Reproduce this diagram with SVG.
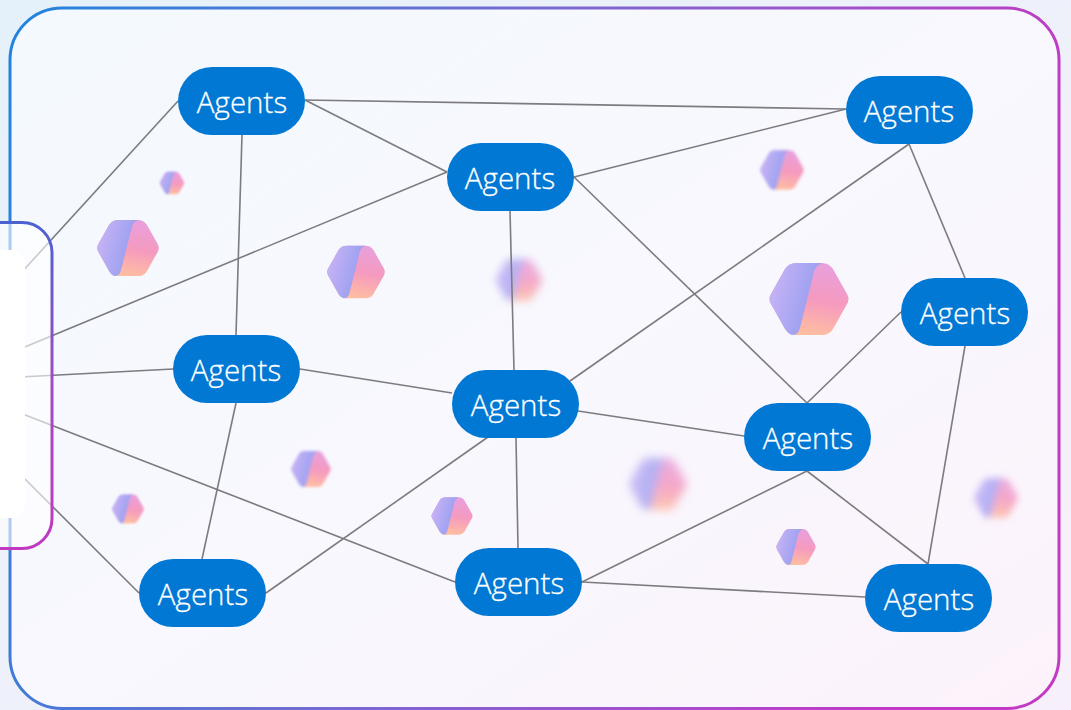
<svg xmlns="http://www.w3.org/2000/svg" width="1071" height="710" viewBox="0 0 1071 710">
<style>
.n{fill:#0078d4}
.t{fill:#fff;stroke:#fff;stroke-width:.3;font:300 29.500px "Open Sans","Noto Sans",sans-serif;text-anchor:middle}
#edges line{stroke:#7c7b7f;stroke-width:1.6}
</style>
<defs>
<linearGradient id="out" x1="0" y1="0" x2="1" y2="1"><stop offset="0" stop-color="#e5f1fa"/><stop offset="1" stop-color="#f7f0fa"/></linearGradient>
<linearGradient id="bg" x1="0" y1="0" x2="1" y2="1"><stop offset="0" stop-color="#f3f9fe"/><stop offset=".5" stop-color="#f8f8fe"/><stop offset="1" stop-color="#fcf2fb"/></linearGradient>
<linearGradient id="bd" x1="0" y1="0" x2="1" y2=".2"><stop offset="0" stop-color="#2084dc"/><stop offset=".5" stop-color="#7a6ad0"/><stop offset="1" stop-color="#c23ac2"/></linearGradient>
<linearGradient id="pb" x1="0" y1="0" x2="0" y2="1"><stop offset="0" stop-color="#4a62d0"/><stop offset=".5" stop-color="#a04cc4"/><stop offset="1" stop-color="#c238c0"/></linearGradient>
<linearGradient id="hl" x1="0" y1="0" x2="1" y2=".35"><stop offset="0" stop-color="#cdb6f6"/><stop offset="1" stop-color="#959df0"/></linearGradient>
<linearGradient id="hr" x1=".6" y1="0" x2=".4" y2="1"><stop offset="0" stop-color="#e8a0dc"/><stop offset=".5" stop-color="#f59abf"/><stop offset="1" stop-color="#ffc09f"/></linearGradient>
<g id="hex">
<path fill="url(#hr)" d="M-38 -5L-24 -30Q-20 -36 -13 -36H13Q20 -36 24 -30L38 -5Q41 0 38 5L24 30Q20 36 13 36H-13Q-20 36 -24 30L-38 5Q-41 0 -38 -5Z"/>
<path fill="url(#hl)" d="M-38 -5L-24 -30Q-20 -36 -13 -36H13Q7 -34 5 -27L-9 29Q-11 36 -16 36Q-20 36 -24 30L-38 5Q-41 0 -38 -5Z"/>
</g>
<filter id="b0" x="-20%" y="-20%" width="140%" height="140%"><feGaussianBlur stdDeviation=".7"/></filter>
<filter id="b1" x="-30%" y="-30%" width="160%" height="160%"><feGaussianBlur stdDeviation="3"/></filter>
<filter id="b2" x="-40%" y="-40%" width="180%" height="180%"><feGaussianBlur stdDeviation="7"/></filter>
</defs>
<rect width="1071" height="710" fill="url(#out)"/>
<rect x="10" y="8" width="1049" height="700.500" rx="52" fill="url(#bg)" stroke="url(#bd)" stroke-width="3"/>
<g id="hexagons">
<use href="#hex" transform="translate(128 248) scale(.78)" filter="url(#b0)"/>
<use href="#hex" transform="translate(172 183) scale(.31)" filter="url(#b1)"/>
<use href="#hex" transform="translate(356 272) scale(.73)" filter="url(#b0)"/>
<use href="#hex" transform="translate(519 280) scale(.58)" filter="url(#b2)" opacity=".85"/>
<use href="#hex" transform="translate(782 170) scale(.55)" filter="url(#b1)"/>
<use href="#hex" transform="translate(809 299)" filter="url(#b0)"/>
<use href="#hex" transform="translate(311 469) scale(.5)" filter="url(#b1)"/>
<use href="#hex" transform="translate(128 509) scale(.4)" filter="url(#b1)"/>
<use href="#hex" transform="translate(452 516) scale(.52)" filter="url(#b0)"/>
<use href="#hex" transform="translate(658 484) scale(.72)" filter="url(#b2)" opacity=".85"/>
<use href="#hex" transform="translate(796 547) scale(.5)" filter="url(#b0)"/>
<use href="#hex" transform="translate(996 498) scale(.55)" filter="url(#b2)" opacity=".85"/>
</g>
<g id="edges">
<line x1="305" y1="100" x2="846" y2="109"/>
<line x1="305" y1="100" x2="447" y2="172"/>
<line x1="178" y1="101" x2="20" y2="274"/>
<line x1="242" y1="135" x2="236" y2="335"/>
<line x1="447" y1="172" x2="20" y2="349"/>
<line x1="574" y1="177" x2="846" y2="109"/>
<line x1="574" y1="177" x2="807" y2="403"/>
<line x1="510" y1="211" x2="514" y2="370"/>
<line x1="909" y1="144" x2="570" y2="381"/>
<line x1="909" y1="144" x2="965" y2="278"/>
<line x1="173" y1="369" x2="20" y2="377"/>
<line x1="300" y1="369" x2="452" y2="393"/>
<line x1="578" y1="411" x2="744" y2="436"/>
<line x1="901" y1="312" x2="807" y2="403"/>
<line x1="965" y1="346" x2="928" y2="564"/>
<line x1="236" y1="403" x2="202" y2="559"/>
<line x1="488" y1="437" x2="266" y2="593"/>
<line x1="516" y1="438" x2="518" y2="548"/>
<line x1="455" y1="582" x2="20" y2="413"/>
<line x1="139" y1="593" x2="20" y2="474"/>
<line x1="582" y1="582" x2="807" y2="471"/>
<line x1="807" y1="471" x2="928" y2="564"/>
<line x1="582" y1="582" x2="865" y2="597"/>
</g>
<g id="panel">
<rect x="-40" y="222.500" width="92" height="326" rx="30" fill="#fff" fill-opacity=".6" stroke="url(#pb)" stroke-width="3"/>
<rect x="-30" y="250" width="55" height="268" rx="14" fill="#fff"/>
</g>
<g id="n1"><rect class="n" x="178" y="67" width="127" height="68" rx="34"/><text class="t" x="242" y="113">Agents</text></g>
<g id="n2"><rect class="n" x="447" y="143" width="127" height="68" rx="34"/><text class="t" x="510" y="189">Agents</text></g>
<g id="n3"><rect class="n" x="846" y="76" width="127" height="68" rx="34"/><text class="t" x="909" y="122">Agents</text></g>
<g id="n4"><rect class="n" x="901" y="278" width="127" height="68" rx="34"/><text class="t" x="965" y="324">Agents</text></g>
<g id="n5"><rect class="n" x="173" y="335" width="127" height="68" rx="34"/><text class="t" x="236" y="381">Agents</text></g>
<g id="n6"><rect class="n" x="452" y="370" width="127" height="68" rx="34"/><text class="t" x="516" y="416">Agents</text></g>
<g id="n7"><rect class="n" x="744" y="403" width="127" height="68" rx="34"/><text class="t" x="808" y="449">Agents</text></g>
<g id="n8"><rect class="n" x="139" y="559" width="127" height="68" rx="34"/><text class="t" x="203" y="605">Agents</text></g>
<g id="n9"><rect class="n" x="455" y="548" width="127" height="68" rx="34"/><text class="t" x="519" y="594">Agents</text></g>
<g id="n10"><rect class="n" x="865" y="564" width="127" height="68" rx="34"/><text class="t" x="929" y="610">Agents</text></g>
</svg>
